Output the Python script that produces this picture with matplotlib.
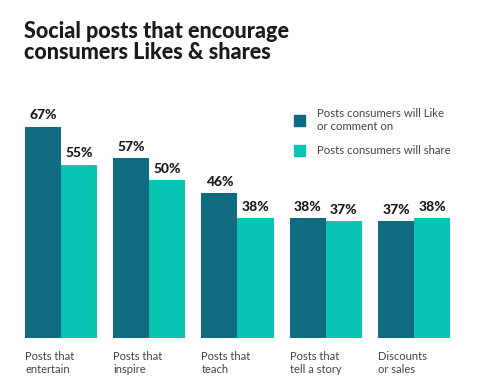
import matplotlib.pyplot as plt
from matplotlib.patches import Patch

# data
categories = ["Posts that\nentertain", "Posts that\ninspire", "Posts that\nteach",
              "Posts that\ntell a story", "Discounts\nor sales"]
like_comment = [67, 57, 46, 38, 37]
share = [55, 50, 38, 37, 38]
series_names = ["Posts consumers will Like\nor comment on", "Posts consumers will share"]

dark = "#106a80"
light = "#08c4b2"
text_col = "#1a1a1a"
label_col = "#444444"

plt.rcParams['font.family'] = ['Lato', 'DejaVu Sans']

W, H = 481, 387
fig = plt.figure(figsize=(W / 100, H / 100), dpi=100)

# axes placed in pixels: left edge of first bar at 25px, baseline at 338px
bw = 36 / 88.25
ax = fig.add_axes([25 / W, (H - 338) / H, 425 / W, 252 / H])
x = list(range(len(categories)))
b1 = ax.bar([i - bw / 2 for i in x], like_comment, width=bw, color=dark)
b2 = ax.bar([i + bw / 2 for i in x], share, width=bw, color=light)
ax.set_xlim(-bw, len(categories) - 1 + bw)
ax.set_ylim(0, 80)

for bars, vals in [(b1, like_comment), (b2, share)]:
    for rect, v in zip(bars, vals):
        ax.annotate(f"{v}%", (rect.get_x() + rect.get_width() / 2, v),
                    xytext=(0, 4), textcoords="offset points",
                    ha="center", va="bottom", fontsize=10,
                    fontweight="black", color=text_col)

ax.set_xticks([i - bw for i in x])
ax.set_xticklabels(categories, ha="left", fontsize=8, color=label_col,
                   linespacing=1.3)
ax.tick_params(axis="x", length=0, pad=9)
ax.set_yticks([])
for s in ax.spines.values():
    s.set_visible(False)

handles = [Patch(color=dark), Patch(color=light)]
fig.legend(handles, series_names, loc="upper left",
           bbox_to_anchor=(294 / W, 1 - 108 / H), frameon=False,
           fontsize=8.2, labelcolor=label_col,
           handlelength=1.0, handleheight=1.0, handletextpad=1.0,
           labelspacing=1.2, borderpad=0, borderaxespad=0)

fig.text(24 / W, 1 - 21 / H, "Social posts that encourage\nconsumers Likes & shares",
         ha="left", va="top", fontsize=15.5, fontweight="black", color=text_col,
         linespacing=1.0)

fig.savefig("out.png", dpi=100)
